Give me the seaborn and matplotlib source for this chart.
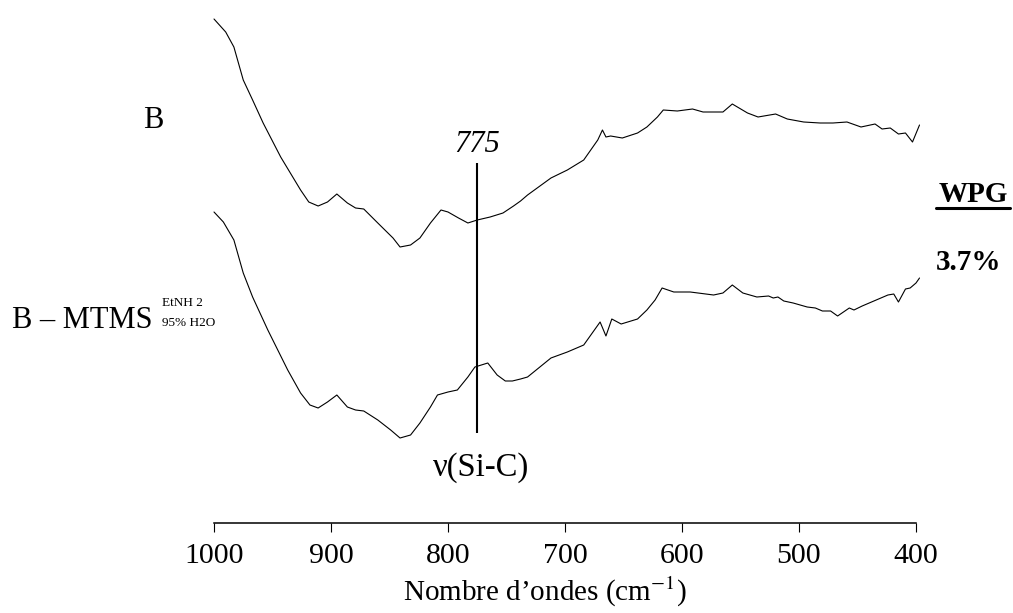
import matplotlib
matplotlib.use("Agg")
import matplotlib.pyplot as plt
import seaborn as sns
import pandas as pd
from matplotlib.lines import Line2D

# wavenumbers (cm-1) and intensities (arbitrary units)
wn_b = [1000, 990, 983, 975, 967, 958, 943, 926, 919, 911, 903, 895, 886, 879, 872, 860,
        847, 841, 832, 824, 815, 806, 800, 791, 783, 775, 764, 753, 744, 738, 732, 712,
        698, 684, 672, 668, 665, 661, 651, 638, 630, 621, 616, 604, 591, 582, 565, 557,
        544, 535, 520, 510, 496, 482, 471, 459, 447, 435, 429, 422, 415, 409, 403, 397]
int_b = [52.9, 51.6, 50.1, 46.8, 44.8, 42.5, 39.1, 35.8, 34.6, 34.2, 34.6, 35.4, 34.5, 34.0,
         33.9, 32.5, 31.0, 30.1, 30.3, 31.0, 32.5, 33.8, 33.6, 33.0, 32.5, 32.8, 33.1, 33.5,
         34.2, 34.7, 35.3, 37.0, 37.8, 38.8, 40.8, 41.8, 41.1, 41.2, 41.0, 41.5, 42.1, 43.1,
         43.8, 43.7, 43.9, 43.6, 43.6, 44.4, 43.5, 43.1, 43.4, 42.9, 42.6, 42.5, 42.5, 42.6,
         42.1, 42.4, 41.9, 42.0, 41.4, 41.5, 40.6, 42.3]

wn_mtms = [1000, 992, 983, 975, 967, 954, 937, 926, 918, 911, 903, 895, 886, 879, 872, 860,
           849, 841, 832, 824, 815, 809, 800, 792, 783, 777, 766, 758, 751, 745, 738, 732,
           712, 698, 684, 670, 665, 660, 652, 638, 630, 623, 617, 607, 593, 573, 565, 557,
           548, 536, 526, 522, 518, 513, 505, 493, 486, 480, 473, 467, 462, 457, 453, 446,
           436, 424, 419, 415, 409, 405, 400, 397]
int_mtms = [33.6, 32.6, 30.8, 27.5, 25.1, 21.8, 17.8, 15.5, 14.3, 14.0, 14.6, 15.3, 14.1, 13.8,
            13.7, 12.8, 11.8, 11.0, 11.3, 12.5, 14.1, 15.3, 15.6, 15.8, 17.1, 18.1, 18.5, 17.3,
            16.7, 16.7, 16.9, 17.1, 19.0, 19.6, 20.3, 22.6, 21.2, 22.9, 22.4, 22.9, 23.8, 24.8,
            26.0, 25.6, 25.6, 25.3, 25.5, 26.3, 25.5, 25.1, 25.2, 25.0, 25.1, 24.7, 24.5, 24.1,
            24.0, 23.7, 23.7, 23.2, 23.6, 24.0, 23.8, 24.2, 24.7, 25.3, 25.4, 24.6, 25.9, 26.0,
            26.5, 27.0]

peak = 775
xticks = [1000, 900, 800, 700, 600, 500, 400]

sns.set_style("white")
plt.rcParams["font.family"] = ["Liberation Serif", "DejaVu Serif"]
plt.rcParams["mathtext.fontset"] = "stix"
plt.rcParams["text.color"] = "black"

W, H = 1013, 613
fig = plt.figure(figsize=(W / 100, H / 100), dpi=100)
ax = fig.add_axes([214 / W, 1 - 523 / H, (916 - 214) / W, 523 / H])

df_b = pd.DataFrame({"wn": wn_b, "I": int_b})
df_m = pd.DataFrame({"wn": wn_mtms, "I": int_mtms})
sns.lineplot(data=df_b, x="wn", y="I", color="black", linewidth=0.8, ax=ax)
sns.lineplot(data=df_m, x="wn", y="I", color="black", linewidth=0.8, ax=ax)
for ln in ax.lines:
    ln.set_clip_on(False)

ax.vlines(peak, 11.5, 38.5, color="black", linewidth=1.5)
ax.text(peak, 40.4, "775", ha="center", va="center", fontsize=22, style="italic")
ax.text(772, 8.0, "ν(Si-C)", ha="center", va="center", fontsize=23.5)

ax.set_xlim(1000, 400)
ax.set_ylim(2.5, 54.8)
ax.set_xticks(xticks)
ax.set_xticklabels([str(t) for t in xticks], fontsize=21.5)
ax.set_yticks([])
ax.set_xlabel("")
ax.set_ylabel("")
for s in ["top", "left", "right"]:
    ax.spines[s].set_visible(False)
ax.spines["bottom"].set_linewidth(1.1)
ax.spines["bottom"].set_color("black")
ax.tick_params(axis="x", bottom=True, direction="out", length=6.5, width=0.8, pad=8,
               colors="black")

fig.text(545 / W, 1 - 601 / H, "Nombre d\u2019ondes (cm$^{-1}$)", ha="center", va="baseline",
         fontsize=21)

# sample labels
fig.text(153 / W, 1 - 121 / H, "B", ha="center", va="center", fontsize=22)
fig.text(12 / W, 1 - 320 / H, "B \u2013 MTMS", ha="left", va="center", fontsize=22)
fig.text(162 / W, 1 - 303 / H, "EtNH 2", ha="left", va="center", fontsize=9.5)
fig.text(162 / W, 1 - 323 / H, "95% H2O", ha="left", va="center", fontsize=9.5)

# weight percent gain
fig.text(973 / W, 1 - 194 / H, "WPG", ha="center", va="center", fontsize=21, fontweight="bold")
fig.add_artist(Line2D([936 / W, 1010 / W], [1 - 208 / H, 1 - 208 / H], color="black",
                      linewidth=2.2, transform=fig.transFigure))
fig.text(969 / W, 1 - 262 / H, "3.7%", ha="center", va="center", fontsize=21, fontweight="bold")

fig.savefig("out.png", dpi=100)
